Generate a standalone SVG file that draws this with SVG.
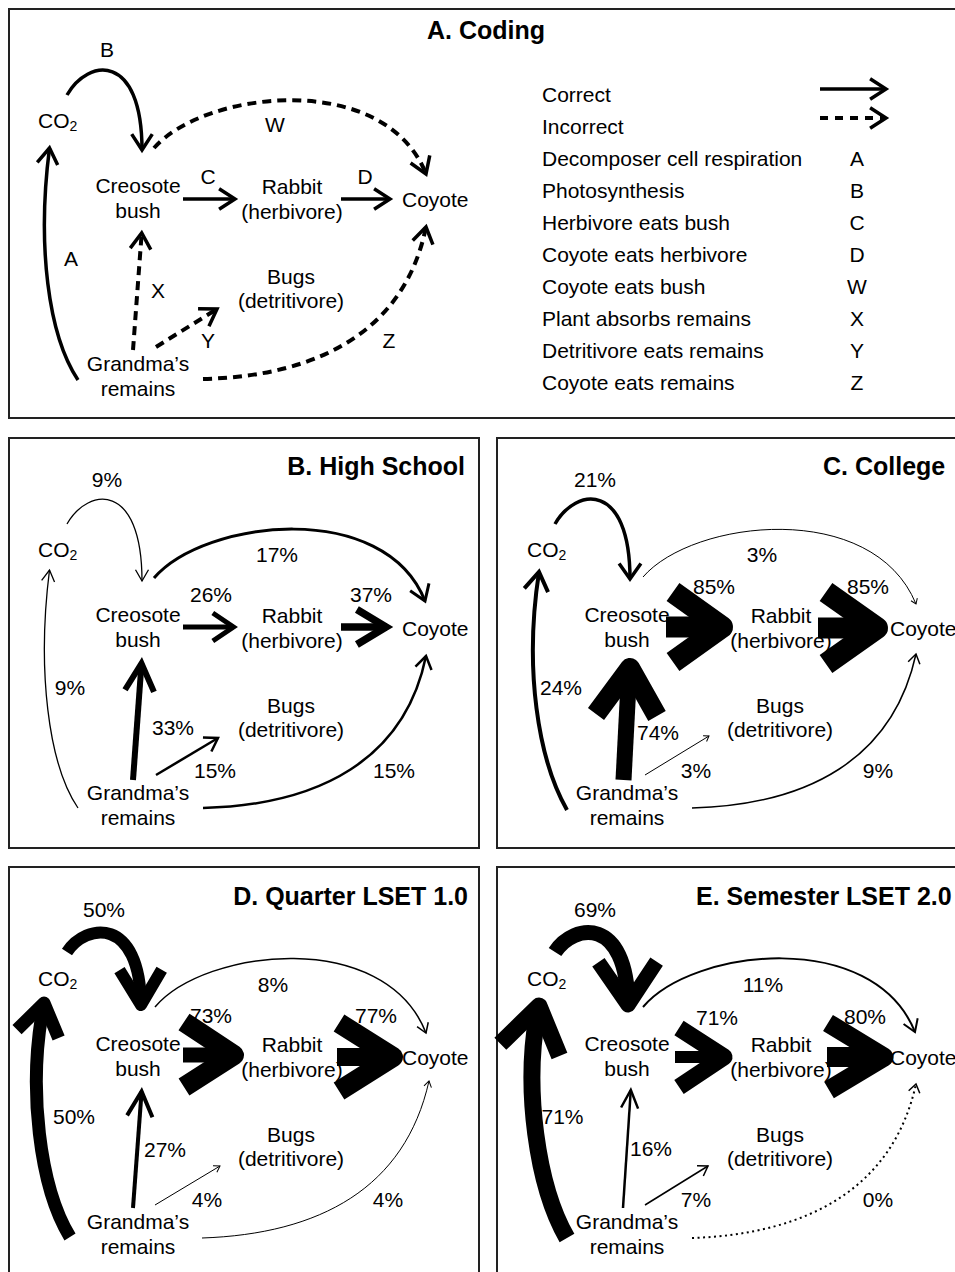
<svg xmlns="http://www.w3.org/2000/svg" width="955" height="1272" viewBox="0 0 955 1272">
<style>
text { font-family: "Liberation Sans", Arial, Helvetica, sans-serif; font-size: 21px; fill: #000; }
.title { font-weight: bold; font-size: 25px; }
.mid { text-anchor: middle; }
.end { text-anchor: end; }
.frame { fill: none; stroke: #222; stroke-width: 2; }
.ln { fill: none; stroke: #000; stroke-linecap: butt; }
.dash { stroke-dasharray: 9 6; }
.ldash { stroke-dasharray: 8 7; }
.dot { stroke-dasharray: 2 3.5; }
.chev { fill: none; stroke: #000; stroke-linejoin: round; stroke-linecap: butt; }
.mk { fill: none; stroke: #000; stroke-linejoin: miter; stroke-miterlimit: 10; stroke-dasharray: none; }
.mkr { fill: none; stroke: #000; stroke-linejoin: round; stroke-dasharray: none; }
</style>
<defs>
<marker id="mA" markerUnits="userSpaceOnUse" orient="auto" overflow="visible"><path class="mk" stroke-width="3.5" d="M-15.9,-10.3L0,0L-15.9,10.3"/></marker>
<marker id="mB9" markerUnits="userSpaceOnUse" orient="auto" overflow="visible"><path class="mk" stroke-width="1.3" d="M-11.3,-6.5L0,0L-11.3,6.5"/></marker>
<marker id="mB17" markerUnits="userSpaceOnUse" orient="auto" overflow="visible"><path class="mk" stroke-width="3" d="M-14.9,-10.1L0,0L-14.9,10.1"/></marker>
<marker id="mB26" markerUnits="userSpaceOnUse" orient="auto" overflow="visible"><path class="mk" stroke-width="5" d="M-20.7,-14L0,0L-20.7,14"/></marker>
<marker id="mB37" markerUnits="userSpaceOnUse" orient="auto" overflow="visible"><path class="mk" stroke-width="7.5" d="M-29.1,-17.5L0,0L-29.1,17.5"/></marker>
<marker id="mB33" markerUnits="userSpaceOnUse" orient="auto" overflow="visible"><path class="mk" stroke-width="6" d="M-27.4,-14.5L0,0L-27.4,14.5"/></marker>
<marker id="mB15" markerUnits="userSpaceOnUse" orient="auto" overflow="visible"><path class="mk" stroke-width="2.5" d="M-12.6,-8.2L0,0L-12.6,8.2"/></marker>
<marker id="mC21" markerUnits="userSpaceOnUse" orient="auto" overflow="visible"><path class="mk" stroke-width="3.5" d="M-15.6,-10.9L0,0L-15.6,10.9"/></marker>
<marker id="mC24" markerUnits="userSpaceOnUse" orient="auto" overflow="visible"><path class="mk" stroke-width="4" d="M-18.5,-12L0,0L-18.5,12"/></marker>
<marker id="mT1" markerUnits="userSpaceOnUse" orient="auto" overflow="visible"><path class="mk" stroke-width="1" d="M-4.9,-3.4L0,0L-4.9,3.4"/></marker>
<marker id="m15" markerUnits="userSpaceOnUse" orient="auto" overflow="visible"><path class="mk" stroke-width="1.5" d="M-9.2,-6L0,0L-9.2,6"/></marker>
<marker id="mD50a" markerUnits="userSpaceOnUse" orient="auto" overflow="visible"><path class="mkr" stroke-width="12" d="M-35.1,-21.1L0,0L-35.1,21.1"/></marker>
<marker id="mD50b" markerUnits="userSpaceOnUse" orient="auto" overflow="visible"><path class="mkr" stroke-width="13" d="M-31.5,-21.2L0,0L-31.5,21.2"/></marker>
<marker id="mD27" markerUnits="userSpaceOnUse" orient="auto" overflow="visible"><path class="mk" stroke-width="4" d="M-24.9,-12.7L0,0L-24.9,12.7"/></marker>
<marker id="mD4" markerUnits="userSpaceOnUse" orient="auto" overflow="visible"><path class="mk" stroke-width="1" d="M-5.9,-3.8L0,0L-5.9,3.8"/></marker>
<marker id="mE69" markerUnits="userSpaceOnUse" orient="auto" overflow="visible"><path class="mkr" stroke-width="15" d="M-43.1,-29.1L0,0L-43.1,29.1"/></marker>
<marker id="mE71" markerUnits="userSpaceOnUse" orient="auto" overflow="visible"><path class="mkr" stroke-width="17" d="M-44.8,-30.2L0,0L-44.8,30.2"/></marker>
<marker id="mE11" markerUnits="userSpaceOnUse" orient="auto" overflow="visible"><path class="mk" stroke-width="2" d="M-11.7,-7.6L0,0L-11.7,7.6"/></marker>
<marker id="mE16" markerUnits="userSpaceOnUse" orient="auto" overflow="visible"><path class="mk" stroke-width="2.5" d="M-18.1,-8.5L0,0L-18.1,8.5"/></marker>
<marker id="mE0" markerUnits="userSpaceOnUse" orient="auto" overflow="visible"><path class="mk" stroke-width="1.5" d="M-8.2,-5.7L0,0L-8.2,5.7"/></marker>
</defs>
<rect x="0" y="0" width="955" height="1272" fill="#fff"/>

<!-- Panel A -->
<g id="panel-A">
<rect class="frame" x="9" y="9" width="952" height="409"/>
<text class="title" x="427" y="39">A. Coding</text>
<g id="A-co2"><text x="38" y="128">CO<tspan font-size="14" dy="3">2</tspan></text></g>
<g id="A-creosote"><text class="mid" x="138" y="193">Creosote</text><text class="mid" x="138" y="218">bush</text></g>
<g id="A-rabbit"><text class="mid" x="292" y="194">Rabbit</text><text class="mid" x="292" y="219">(herbivore)</text></g>
<g id="A-coyote"><text x="402" y="207">Coyote</text></g>
<g id="A-bugs"><text class="mid" x="291" y="284">Bugs</text><text class="mid" x="291" y="308">(detritivore)</text></g>
<g id="A-grandma"><text class="mid" x="138" y="371">Grandma’s</text><text class="mid" x="138" y="396">remains</text></g>
<g id="A-connectors">
<path class="ln" stroke-width="3.5" d="M67,95 C88,58 142,52 142,150" marker-end="url(#mA)"/>
<path class="ln" stroke-width="3.5" d="M78,380 C48,335 37,245 49.5,148" marker-end="url(#mA)"/>
<path class="ln" stroke-width="3.5" d="M183,199 L235,199" marker-end="url(#mA)"/>
<path class="ln" stroke-width="3.5" d="M341,199 L390,199" marker-end="url(#mA)"/>
<path class="ln dash" stroke-width="4" d="M154,148 C205,90 385,70 426,174" marker-end="url(#mA)"/>
<path class="ln dash" stroke-width="4" d="M133,350 L141.7,233" marker-end="url(#mA)"/>
<path class="ln dash" stroke-width="4" d="M156,347 L217,309" marker-end="url(#mA)"/>
<path class="ln dash" stroke-width="4" d="M203,379 C320,376 405,330 426,227" marker-end="url(#mA)"/>
<text class="mid" x="107" y="57">B</text>
<text class="mid" x="208" y="184">C</text>
<text class="mid" x="365" y="184">D</text>
<text class="mid" x="275" y="132">W</text>
<text class="mid" x="71" y="266">A</text>
<text class="mid" x="158" y="298">X</text>
<text class="mid" x="208" y="348">Y</text>
<text class="mid" x="389" y="348">Z</text>
</g>
<g id="A-legend">
<text x="542" y="101.5">Correct</text>
<path class="ln" stroke-width="3.5" d="M820,89 L886,89" marker-end="url(#mA)"/>
<text x="542" y="133.5">Incorrect</text>
<path class="ln ldash" stroke-width="4" d="M820,118 L886,118" marker-end="url(#mA)"/>
<text x="542" y="165.5">Decomposer cell respiration</text><text class="mid" x="857" y="165.5">A</text>
<text x="542" y="197.5">Photosynthesis</text><text class="mid" x="857" y="197.5">B</text>
<text x="542" y="229.5">Herbivore eats bush</text><text class="mid" x="857" y="229.5">C</text>
<text x="542" y="261.5">Coyote eats herbivore</text><text class="mid" x="857" y="261.5">D</text>
<text x="542" y="293.5">Coyote eats bush</text><text class="mid" x="857" y="293.5">W</text>
<text x="542" y="325.5">Plant absorbs remains</text><text class="mid" x="857" y="325.5">X</text>
<text x="542" y="357.5">Detritivore eats remains</text><text class="mid" x="857" y="357.5">Y</text>
<text x="542" y="389.5">Coyote eats remains</text><text class="mid" x="857" y="389.5">Z</text>
</g>
</g>

<!-- Panel B -->
<g id="panel-B" transform="translate(0,429)">
<rect class="frame" x="9" y="9" width="470" height="410"/>
<text class="title end" x="465" y="46">B. High School</text>
<g id="B-co2"><text x="38" y="128">CO<tspan font-size="14" dy="3">2</tspan></text></g>
<g id="B-creosote"><text class="mid" x="138" y="193">Creosote</text><text class="mid" x="138" y="218">bush</text></g>
<g id="B-rabbit"><text class="mid" x="292" y="194">Rabbit</text><text class="mid" x="292" y="219">(herbivore)</text></g>
<g id="B-coyote"><text x="402" y="207">Coyote</text></g>
<g id="B-bugs"><text class="mid" x="291" y="284">Bugs</text><text class="mid" x="291" y="308">(detritivore)</text></g>
<g id="B-grandma"><text class="mid" x="138" y="371">Grandma’s</text><text class="mid" x="138" y="396">remains</text></g>
<g id="B-connectors">
<path class="ln" stroke-width="1.3" d="M67,95 C88,58 142,52 142,152" marker-end="url(#mB9)"/>
<path class="ln" stroke-width="1.3" d="M78,379 C48,335 37,240 49.5,141" marker-end="url(#mB9)"/>
<path class="ln" stroke-width="3" d="M154,149 C205,90 385,70 425,172" marker-end="url(#mB17)"/>
<path class="ln" stroke-width="5" d="M183,198 L233.5,198" marker-end="url(#mB26)"/>
<path class="ln" stroke-width="7.5" d="M341,198 L386,198" marker-end="url(#mB37)"/>
<path class="ln" stroke-width="6" d="M133,351 L141.5,234.5" marker-end="url(#mB33)"/>
<path class="ln" stroke-width="2.5" d="M156,346 L218,309" marker-end="url(#mB15)"/>
<path class="ln" stroke-width="2.5" d="M203,379 C320,376 405,330 426,227" marker-end="url(#mB15)"/>
<text class="mid" x="107" y="58">9%</text>
<text class="mid" x="277" y="133">17%</text>
<text class="mid" x="211" y="173">26%</text>
<text class="mid" x="371" y="173">37%</text>
<text class="mid" x="70" y="266">9%</text>
<text class="mid" x="173" y="306">33%</text>
<text class="mid" x="215" y="349">15%</text>
<text class="mid" x="394" y="349">15%</text>
</g>
</g>

<!-- Panel C -->
<g id="panel-C" transform="translate(488,429)">
<rect class="frame" x="9" y="9" width="470" height="410"/>
<text class="title" x="335" y="46">C. College</text>
<g id="C-co2"><text x="39" y="128">CO<tspan font-size="14" dy="3">2</tspan></text></g>
<g id="C-creosote"><text class="mid" x="139" y="193">Creosote</text><text class="mid" x="139" y="218">bush</text></g>
<g id="C-rabbit"><text class="mid" x="293" y="194">Rabbit</text><text class="mid" x="293" y="219">(herbivore)</text></g>
<g id="C-coyote"><text x="402" y="207">Coyote</text></g>
<g id="C-bugs"><text class="mid" x="292" y="284">Bugs</text><text class="mid" x="292" y="308">(detritivore)</text></g>
<g id="C-grandma"><text class="mid" x="139" y="371">Grandma’s</text><text class="mid" x="139" y="396">remains</text></g>
<g id="C-connectors">
<path class="ln" stroke-width="3.5" d="M67,95 C88,58 142,52 142,150" marker-end="url(#mC21)"/>
<path class="ln" stroke-width="4" d="M79,381 C50,330 36,240 51,143" marker-end="url(#mC24)"/>
<path class="ln" stroke-width="1" d="M155,148 C205,90 385,70 428,175" marker-end="url(#mT1)"/>
<path class="ln" stroke-width="21" d="M178,198 L232,198"/>
<path class="chev" stroke-width="22" d="M185,163 L234,198 L185,233"/>
<path class="ln" stroke-width="21" d="M330,199 L386,199"/>
<path class="chev" stroke-width="22" d="M338,163 L389,199 L338,235"/>
<path class="ln" stroke-width="16" d="M135.5,351 L141,245"/>
<path class="chev" stroke-width="20" d="M108,285 L142,239 L169,287"/>
<path class="ln" stroke-width="1" d="M157,346 L221,307" marker-end="url(#mT1)"/>
<path class="ln" stroke-width="1.5" d="M204,379 C320,376 405,330 428,225" marker-end="url(#m15)"/>
<text class="mid" x="107" y="58">21%</text>
<text class="mid" x="274" y="133">3%</text>
<text class="mid" x="226" y="165">85%</text>
<text class="mid" x="380" y="165">85%</text>
<text class="mid" x="73" y="266">24%</text>
<text class="mid" x="170" y="311">74%</text>
<text class="mid" x="208" y="349">3%</text>
<text class="mid" x="390" y="349">9%</text>
</g>
</g>

<!-- Panel D -->
<g id="panel-D" transform="translate(0,858)">
<rect class="frame" x="9" y="9" width="470" height="440"/>
<text class="title end" x="468" y="47">D. Quarter LSET 1.0</text>
<g id="D-co2"><text x="38" y="128">CO<tspan font-size="14" dy="3">2</tspan></text></g>
<g id="D-creosote"><text class="mid" x="138" y="193">Creosote</text><text class="mid" x="138" y="218">bush</text></g>
<g id="D-rabbit"><text class="mid" x="292" y="194">Rabbit</text><text class="mid" x="292" y="219">(herbivore)</text></g>
<g id="D-coyote"><text x="402" y="207">Coyote</text></g>
<g id="D-bugs"><text class="mid" x="291" y="284">Bugs</text><text class="mid" x="291" y="308">(detritivore)</text></g>
<g id="D-grandma"><text class="mid" x="138" y="371">Grandma’s</text><text class="mid" x="138" y="396">remains</text></g>
<g id="D-connectors">
<path class="ln" stroke-width="12" d="M67,94 C86,65 140,58 141,147" marker-end="url(#mD50a)"/>
<path class="ln" stroke-width="13" d="M70,379 C40,330 27,230 44,145" marker-end="url(#mD50b)"/>
<path class="ln" stroke-width="1.5" d="M155,149 C205,90 385,70 426,175" marker-end="url(#m15)"/>
<path class="ln" stroke-width="15" d="M183,197 L230,197"/>
<path class="chev" stroke-width="20" d="M184,164 L234,197 L184,229"/>
<path class="ln" stroke-width="18" d="M337,199 L389,199"/>
<path class="chev" stroke-width="20" d="M339,165 L393,199 L339,233"/>
<path class="ln" stroke-width="4" d="M133,350 L141.6,233.5" marker-end="url(#mD27)"/>
<path class="ln" stroke-width="1" d="M155,347 L220,308" marker-end="url(#mD4)"/>
<path class="ln" stroke-width="1" d="M202,380 C320,376 405,330 429,223" marker-end="url(#mD4)"/>
<text class="mid" x="104" y="59">50%</text>
<text class="mid" x="273" y="134">8%</text>
<text class="mid" x="211" y="165">73%</text>
<text class="mid" x="376" y="165">77%</text>
<text class="mid" x="74" y="266">50%</text>
<text class="mid" x="165" y="299">27%</text>
<text class="mid" x="207" y="349">4%</text>
<text class="mid" x="388" y="349">4%</text>
</g>
</g>

<!-- Panel E -->
<g id="panel-E" transform="translate(488,858)">
<rect class="frame" x="9" y="9" width="470" height="440"/>
<text class="title" x="208" y="47">E. Semester LSET 2.0</text>
<g id="E-co2"><text x="39" y="128">CO<tspan font-size="14" dy="3">2</tspan></text></g>
<g id="E-creosote"><text class="mid" x="139" y="193">Creosote</text><text class="mid" x="139" y="218">bush</text></g>
<g id="E-rabbit"><text class="mid" x="293" y="194">Rabbit</text><text class="mid" x="293" y="219">(herbivore)</text></g>
<g id="E-coyote"><text x="402" y="207">Coyote</text></g>
<g id="E-bugs"><text class="mid" x="292" y="284">Bugs</text><text class="mid" x="292" y="308">(detritivore)</text></g>
<g id="E-grandma"><text class="mid" x="139" y="371">Grandma’s</text><text class="mid" x="139" y="396">remains</text></g>
<g id="E-connectors">
<path class="ln" stroke-width="15" d="M67,94 C86,65 139,58 140,147" marker-end="url(#mE69)"/>
<path class="ln" stroke-width="17" d="M79,380 C50,330 34,230 51,148" marker-end="url(#mE71)"/>
<path class="ln" stroke-width="2" d="M155,149 C205,90 385,70 427,174" marker-end="url(#mE11)"/>
<path class="ln" stroke-width="12" d="M187,199 L232,199"/>
<path class="chev" stroke-width="17" d="M191,170 L236,199 L191,229"/>
<path class="ln" stroke-width="20" d="M339,199 L392,199"/>
<path class="chev" stroke-width="19" d="M340,165 L396,199 L341,232"/>
<path class="ln" stroke-width="2.5" d="M135,350 L142.8,232" marker-end="url(#mE16)"/>
<path class="ln" stroke-width="1.5" d="M157,347 L220,308" marker-end="url(#m15)"/>
<path class="ln dot" stroke-width="2" d="M204,380 C320,376 405,330 428,226" marker-end="url(#mE0)"/>
<text class="mid" x="107" y="59">69%</text>
<text class="mid" x="275" y="134">11%</text>
<text class="mid" x="229" y="167">71%</text>
<text class="mid" x="377" y="166">80%</text>
<text class="mid" x="74.5" y="266">71%</text>
<text class="mid" x="163" y="298">16%</text>
<text class="mid" x="208" y="349">7%</text>
<text class="mid" x="390" y="349">0%</text>
</g>
</g>
</svg>
